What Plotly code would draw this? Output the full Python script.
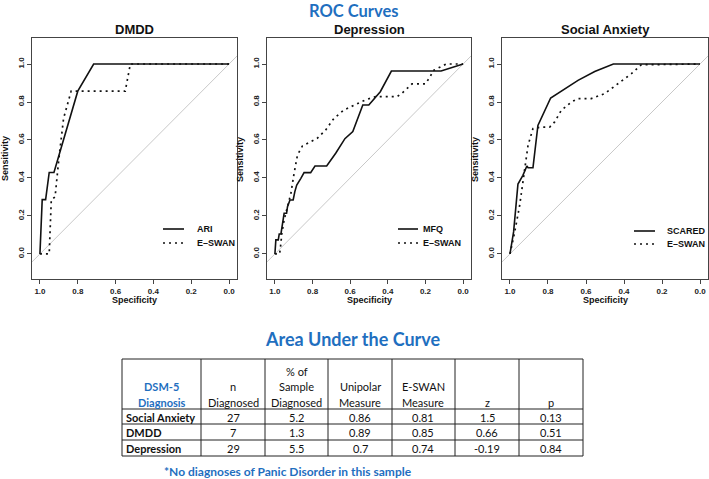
import plotly.graph_objects as go

W, H = 709, 479

# ---------------- data ----------------
panel_titles = ["DMDD", "Depression", "Social Anxiety"]
series_names = [["ARI", "E\u2013SWAN"], ["MFQ", "E\u2013SWAN"], ["SCARED", "E\u2013SWAN"]]

dmdd_ari_spec = [1.0, 0.988, 0.970, 0.951, 0.926, 0.885, 0.843, 0.800, 0.716, 0.0]
dmdd_ari_sens = [0.0, 0.286, 0.286, 0.429, 0.429, 0.571, 0.714, 0.857, 1.0, 1.0]
dmdd_esw_spec = [1.0, 0.951, 0.940, 0.920, 0.900, 0.875, 0.835, 0.549, 0.522, 0.0]
dmdd_esw_sens = [0.0, 0.0, 0.286, 0.300, 0.500, 0.714, 0.857, 0.857, 1.0, 1.0]

dep_mfq_spec = [1.0, 0.995, 0.982, 0.977, 0.968, 0.963, 0.956, 0.951, 0.938, 0.933, 0.920,
                0.903, 0.894, 0.884, 0.862, 0.845, 0.810, 0.787, 0.725, 0.677, 0.628,
                0.586, 0.533, 0.501, 0.440, 0.381, 0.117, 0.087, 0.0]
dep_mfq_sens = [0.0, 0.074, 0.074, 0.105, 0.105, 0.135, 0.179, 0.214, 0.214, 0.249, 0.284,
                0.284, 0.328, 0.363, 0.398, 0.428, 0.428, 0.463, 0.463, 0.530, 0.607,
                0.644, 0.784, 0.784, 0.854, 0.963, 0.963, 0.972, 1.0]
dep_esw_spec = [1.0, 0.975, 0.970, 0.963, 0.951, 0.933, 0.915, 0.898, 0.880, 0.854, 0.810,
                0.775, 0.730, 0.686, 0.633, 0.580, 0.519, 0.466, 0.351, 0.325, 0.272,
                0.201, 0.175, 0.160, 0.090, 0.0]
dep_esw_sens = [0.0, 0.0, 0.039, 0.109, 0.179, 0.249, 0.319, 0.425, 0.521, 0.568, 0.591,
                0.609, 0.653, 0.714, 0.758, 0.784, 0.811, 0.828, 0.828, 0.846, 0.895,
                0.895, 0.933, 0.965, 1.0, 1.0]

soc_scared_spec = [1.0, 0.981, 0.958, 0.932, 0.911, 0.905, 0.879, 0.853, 0.786, 0.712,
                   0.642, 0.554, 0.456, 0.0]
soc_scared_sens = [0.0, 0.116, 0.368, 0.414, 0.463, 0.454, 0.454, 0.677, 0.821, 0.867,
                   0.914, 0.961, 1.0, 1.0]
soc_esw_spec = [1.0, 0.975, 0.949, 0.923, 0.905, 0.879, 0.835, 0.791, 0.765, 0.730, 0.677,
                0.642, 0.572, 0.502, 0.432, 0.361, 0.309, 0.0]
soc_esw_sens = [0.0, 0.116, 0.256, 0.432, 0.572, 0.660, 0.668, 0.668, 0.695, 0.756, 0.800,
                0.818, 0.818, 0.844, 0.896, 0.949, 0.996, 1.0]

tick_vals = [0.0, 0.2, 0.4, 0.6, 0.8, 1.0]

# table data
tbl_header = ["DSM-5<br>Diagnosis", "n<br>Diagnosed", "% of<br>Sample<br>Diagnosed",
              "Unipolar<br>Measure", "E-SWAN<br>Measure", "z", "p"]
diagnosis = ["Social Anxiety", "DMDD", "Depression"]
n_diagnosed = [27, 7, 29]
pct_sample = [5.2, 1.3, 5.5]
auc_unipolar = [0.86, 0.89, 0.7]
auc_eswan = [0.81, 0.85, 0.74]
z_vals = [1.5, 0.66, -0.19]
p_vals = [0.13, 0.51, 0.84]

# ---------------- layout geometry ----------------
BLUE = "#1f6fbf"
FONT = "Liberation Sans"
TFONT = "Lato"
DOT = "2px,4px"
px_x = [(32, 237), (267, 471), (502, 708)]
box_top, box_bot = 38, 279
ydom = [1 - box_bot / H, 1 - box_top / H]
XR = [1.042, -0.042]
YR = [-0.132, 1.137]


def px(x):
    return x / W


def py(y):
    return 1 - y / H


curves = [
    (dmdd_ari_spec, dmdd_ari_sens, dmdd_esw_spec, dmdd_esw_sens),
    (dep_mfq_spec, dep_mfq_sens, dep_esw_spec, dep_esw_sens),
    (soc_scared_spec, soc_scared_sens, soc_esw_spec, soc_esw_sens),
]

fig = go.Figure()
annotations = []
shapes = []

leg_geo = [  # (sample x0, x1, text x) in px, row y px
    ((163, 184, 195), (229, 243)),
    ((398, 418, 421), (229, 243)),
    ((634, 655, 665), (231, 244)),
]

for i in range(3):
    sfx = "" if i == 0 else str(i + 1)
    xa, ya = "x" + sfx, "y" + sfx
    s1x, s1y, s2x, s2y = curves[i]
    # diagonal reference
    fig.add_trace(go.Scatter(x=XR, y=[1 - XR[0], 1 - XR[1]], mode="lines",
                             line=dict(color="#c8c8c8", width=1), xaxis=xa, yaxis=ya,
                             showlegend=False, hoverinfo="skip"))
    fig.add_trace(go.Scatter(x=s2x, y=s2y, mode="lines", name=series_names[i][1],
                             line=dict(color="#111", width=1.7, dash=DOT),
                             xaxis=xa, yaxis=ya, showlegend=False))
    fig.add_trace(go.Scatter(x=s1x, y=s1y, mode="lines", name=series_names[i][0],
                             line=dict(color="#111", width=1.6),
                             xaxis=xa, yaxis=ya, showlegend=False))
    x0, x1 = px_x[i]
    common = dict(showline=True, mirror=True, linecolor="#444", linewidth=1,
                  ticks="outside", ticklen=4, tickcolor="#444", showgrid=False,
                  zeroline=False, tickvals=tick_vals,
                  ticktext=["%.1f" % v for v in tick_vals],
                  tickfont=dict(family=FONT, size=8, color="#222", weight="bold"))
    fig.layout["xaxis" + sfx] = dict(domain=[px(x0), px(x1)], range=XR, anchor=ya,
                                     **common)
    fig.layout["yaxis" + sfx] = dict(domain=ydom, range=YR, anchor=xa, tickangle=-90,
                                     **common)
    cx = (x0 + x1) / 2
    annotations.append(dict(text="<b>%s</b>" % panel_titles[i], x=px(cx), y=py(30),
                            xref="paper", yref="paper", showarrow=False,
                            font=dict(family=FONT, size=13, color="#111"),
                            xanchor="center", yanchor="middle"))
    annotations.append(dict(text="<b>Specificity</b>", x=px(cx), y=py(300),
                            xref="paper", yref="paper", showarrow=False,
                            font=dict(family=FONT, size=9, color="#111"),
                            xanchor="center", yanchor="middle"))
    annotations.append(dict(text="<b>Sensitivity</b>", x=px(x0 - 27),
                            y=py(159), xref="paper", yref="paper",
                            showarrow=False, textangle=-90,
                            font=dict(family=FONT, size=9, color="#111"),
                            xanchor="center", yanchor="middle"))
    (lx0, lx1, tx), (r1, r2) = leg_geo[i]
    for r, dash, name in [(r1, "solid", series_names[i][0]), (r2, DOT, series_names[i][1])]:
        shapes.append(dict(type="line", xref="paper", yref="paper",
                           x0=px(lx0), x1=px(lx1), y0=py(r), y1=py(r),
                           line=dict(color="#111", width=1.6, dash=dash)))
        annotations.append(dict(text="<b>%s</b>" % name, x=px(tx), y=py(r),
                                xref="paper", yref="paper", showarrow=False,
                                xanchor="left", yanchor="middle",
                                font=dict(family=FONT, size=9, color="#111")))

# titles
annotations.append(dict(text="<b>ROC Curves</b>", x=px(353), y=py(10.5), xref="paper",
                        yref="paper", showarrow=False, xanchor="center", yanchor="middle",
                        borderpad=0,
                        font=dict(family=TFONT, size=16.5, color=BLUE)))
annotations.append(dict(text="<b>Area Under the Curve</b>", x=px(353), y=py(339),
                        xref="paper", yref="paper", showarrow=False, xanchor="center",
                        yanchor="middle", font=dict(family=TFONT, size=18, color=BLUE)))
annotations.append(dict(text="<b>*No diagnoses of Panic Disorder in this sample</b>",
                        x=px(288), y=py(471), xref="paper", yref="paper",
                        showarrow=False, xanchor="center", yanchor="middle",
                        font=dict(family=TFONT, size=12, color=BLUE)))

# ---------------- table (grid + text built from the table arrays) ----------------
col_edges = [122, 201, 265, 328, 392, 455, 519, 583]
row_edges = [359, 409, 424, 440, 456]
header_line_y = [371, 386.5, 402]
row_text_y = [417, 432.5, 448]
LINE = dict(color="#222", width=1)

for xe in col_edges:
    shapes.append(dict(type="line", xref="paper", yref="paper", x0=px(xe), x1=px(xe),
                       y0=py(row_edges[0]), y1=py(row_edges[-1]), line=LINE))
for ye in row_edges:
    shapes.append(dict(type="line", xref="paper", yref="paper", x0=px(col_edges[0]),
                       x1=px(col_edges[-1]), y0=py(ye), y1=py(ye), line=LINE))

for c, htxt in enumerate(tbl_header):
    lines = htxt.split("<br>")
    cxm = (col_edges[c] + col_edges[c + 1]) / 2
    for k, ln in enumerate(reversed(lines)):
        annotations.append(dict(text=ln, x=px(cxm), y=py(header_line_y[-1 - k]),
                                xref="paper", yref="paper", showarrow=False,
                                xanchor="center", yanchor="middle",
                                font=dict(family=TFONT, size=11,
                                          color=BLUE if c == 0 else "#111",
                                          weight="bold" if c == 0 else "normal")))

table_cols = [diagnosis, n_diagnosed, pct_sample, auc_unipolar, auc_eswan, z_vals, p_vals]
for c, col in enumerate(table_cols):
    for r, v in enumerate(col):
        if c == 0:
            annotations.append(dict(text="<b>%s</b>" % v, x=px(col_edges[0] + 2),
                                    y=py(row_text_y[r]), xref="paper", yref="paper",
                                    showarrow=False, xanchor="left", yanchor="middle",
                                    font=dict(family=TFONT, size=11, color="#111")))
        else:
            cxm = (col_edges[c] + col_edges[c + 1]) / 2
            annotations.append(dict(text=str(v), x=px(cxm), y=py(row_text_y[r]),
                                    xref="paper", yref="paper", showarrow=False,
                                    xanchor="center", yanchor="middle",
                                    font=dict(family=TFONT, size=11, color="#111")))

fig.update_layout(width=W, height=H, margin=dict(l=0, r=0, t=0, b=0),
                  paper_bgcolor="white", plot_bgcolor="white",
                  annotations=annotations, shapes=shapes, showlegend=False)

fig.write_html("out.html", config={"displayModeBar": False},
               post_script="document.body.style.margin='0';"
                           "document.body.style.overflow='hidden';")
